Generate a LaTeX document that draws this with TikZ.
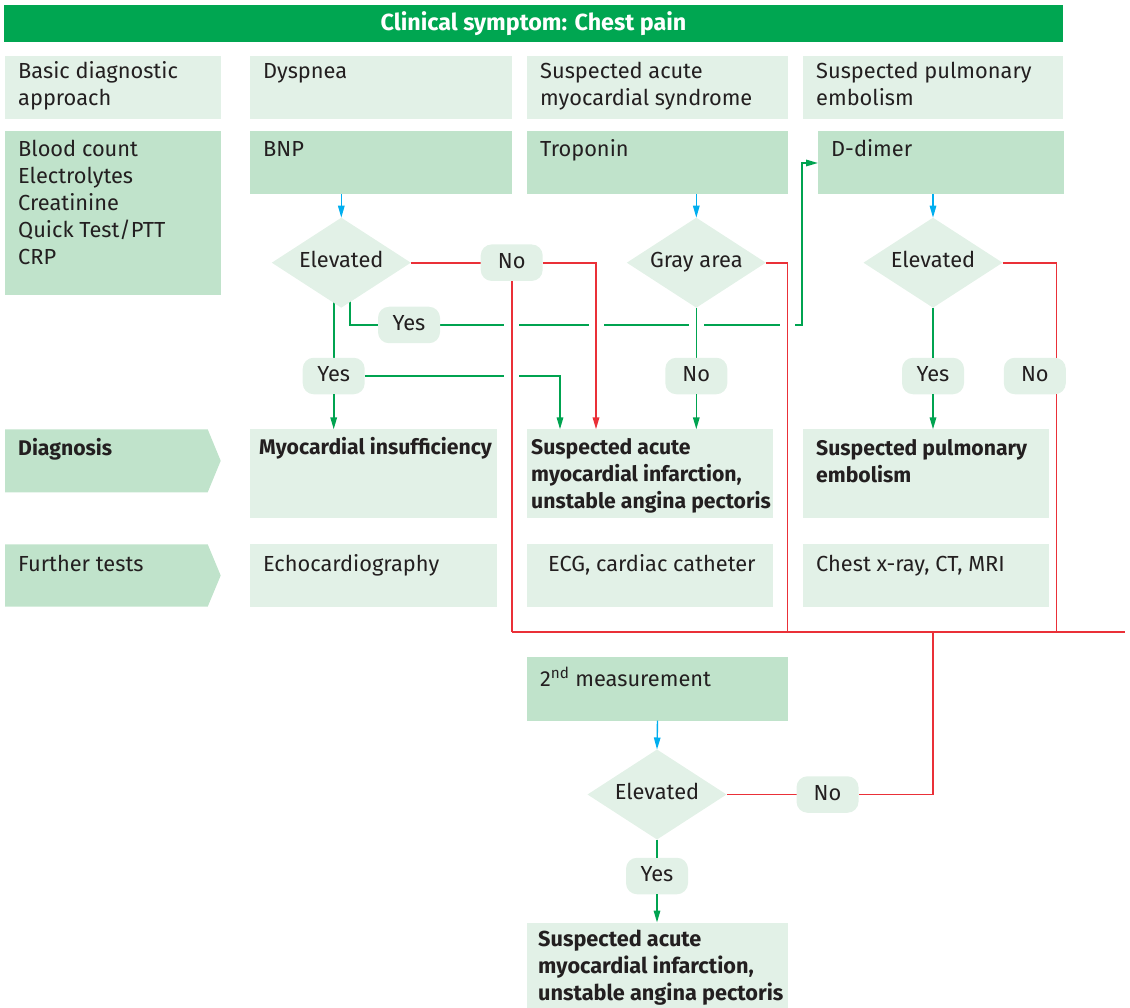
\documentclass[tikz,border=0pt]{standalone}
\usepackage{fontspec}
\setmainfont{Fira Sans}
\usetikzlibrary{arrows.meta,shapes.geometric,calc}
\definecolor{pale}{RGB}{226,241,231}
\definecolor{mint}{RGB}{192,227,203}
\definecolor{brand}{RGB}{0,166,81}
\definecolor{alert}{RGB}{234,48,56}
\definecolor{flow}{RGB}{0,163,80}
\definecolor{sky}{RGB}{0,174,239}
\definecolor{ink}{RGB}{35,31,32}
\pgfdeclarelayer{wires}
\pgfsetlayers{wires,main}
% \cell{name}{x}{y}{width}{height}{box style}{text style}{first baseline offset}{text}
\newcommand\cell[9]{%
  \node[#6, minimum width=#4, minimum height=#5] (#1) at (#2,#3) {};
  \node[#7] (#1-t) at ($(#1.north west)+(#8)$) {\rule{0pt}{19pt}#9};}
\newcommand\bodyfont{\fontsize{21.8}{27}\selectfont}
\newcommand\headfont{\fontsize{21.2}{27}\selectfont\bfseries}
\begin{document}
\begin{tikzpicture}[x=1pt,y=-1pt,
  base/.style={inner sep=0pt, outer sep=0pt, anchor=north west, draw=none},
  pbox/.style={base, fill=pale},
  mbox/.style={base, fill=mint},
  txt/.style={anchor=north west, align=left, inner sep=0pt, yshift=19pt, text=ink, font=\bodyfont},
  btxt/.style={txt, font=\headfont},
  dia/.style={diamond, fill=pale, inner sep=0pt, outer sep=0pt, aspect=1.55,
    minimum width=139pt, minimum height=90pt, text=ink, font=\bodyfont,
    text height=15pt, text depth=6pt},
  pill/.style={rectangle, rounded corners=11pt, fill=pale, inner sep=0pt, outer sep=0pt,
    minimum width=62pt, minimum height=36.5pt, text=ink, font=\bodyfont,
    text height=15pt, text depth=4pt},
  tip/.style={-{Triangle[length=12pt,width=6.5pt]}},
  bline/.style={draw=sky, line width=1.4pt},
  gline/.style={draw=flow, line width=1.6pt},
  rline/.style={draw=alert, line width=1.7pt},
  gap/.style={preaction={draw=white, line width=15pt, -}}]
\useasboundingbox (0,0) rectangle (1130,1008);

% header bar
\node[base, fill=brand, minimum width=1059, minimum height=37, anchor=center,
  text=white, font=\fontsize{23.3}{27}\selectfont\bfseries] (title) at (533.5,23.5)
  {Clinical symptom: Chest pain};

% first row
\cell{basic}{5}{56}{216}{63}{pbox}{txt}{13,22.3}{Basic diagnostic\\approach}
\cell{dys}{250}{56}{262}{63}{pbox}{txt}{13,22.3}{Dyspnea}
\cell{acs}{527}{56}{261}{63}{pbox}{txt}{13,22.3}{Suspected acute\\myocardial syndrome}
\cell{pul}{803}{56}{260}{63}{pbox}{txt}{13,22.3}{Suspected pulmonary\\embolism}

% laboratory row
\cell{lab}{5}{131.5}{216}{164}{mbox}{txt}{13,24.5}{Blood count\\Electrolytes\\Creatinine\\Quick Test/PTT\\CRP}
\cell{bnp}{250}{131.5}{262}{63}{mbox}{txt}{13,24.5}{BNP}
\cell{trop}{527}{131.5}{261}{63}{mbox}{txt}{13,24.5}{Troponin}
\cell{ddim}{818}{131.5}{245.5}{63}{mbox}{txt}{13,24.5}{D-dimer}

% diagnosis row
\fill[mint] (5,429.3) -- (207.7,429.3) -- (220.7,460.8) -- (207.7,492.3) -- (5,492.3) -- cycle;
\node[btxt] (diag) at (18,455) {\rule{0pt}{19pt}Diagnosis};
\cell{mi}{250}{429.3}{247}{88.2}{pbox}{btxt}{9,25}{Myocardial insufficiency}
\cell{sami}{527}{429.3}{246}{88.2}{pbox}{btxt}{4,24.5}{Suspected acute\\myocardial infarction,\\unstable angina pectoris}
\cell{pe}{803}{429.3}{246}{88.2}{pbox}{btxt}{13,25.5}{Suspected pulmonary\\embolism}

% further tests row
\fill[mint] (5,544.3) -- (207.7,544.3) -- (220.7,575.5) -- (207.7,606.7) -- (5,606.7) -- cycle;
\node[txt] (further) at (18,571.7) {\rule{0pt}{19pt}Further tests};
\cell{echo}{250}{544.3}{247}{62.4}{pbox}{txt}{13,26.5}{Echocardiography}
\cell{ecg}{527}{544.3}{246}{62.4}{pbox}{txt}{21,27}{ECG, cardiac catheter}
\cell{img}{803}{544.3}{246}{62.4}{pbox}{txt}{13,27}{Chest x-ray, CT, MRI}

% repeated troponin measurement
\cell{meas}{527}{657.3}{261}{63.4}{mbox}{txt}{13,28.7}{2\textsuperscript{nd} measurement}
\cell{fin}{527}{922.5}{261}{85.5}{pbox}{txt}{11,24}{\fontsize{21.7}{27}\selectfont\bfseries Suspected acute\\
  \fontsize{21.7}{27}\selectfont\bfseries myocardial infarction,\\
  \fontsize{21.7}{27}\selectfont\bfseries unstable angina pectoris}

% decisions
\node[dia] (e1) at (341.3,262.7) {Elevated};
\node[dia] (ga) at (696.3,262.7) {Gray area};
\node[dia] (e3) at (933,262.7) {Elevated};
\node[dia] (e4) at (657,794.5) {Elevated};

% answers
\node[pill] (no1) at (511.7,262.7) {No};
\node[pill] (y2) at (409,325) {Yes};
\node[pill] (y1) at (333.7,376) {Yes};
\node[pill] (no2) at (696.3,376) {No};
\node[pill] (y3) at (933,376) {Yes};
\node[pill] (no3) at (1034.8,376) {No};
\node[pill] (no4) at (827.5,794.5) {No};
\node[pill] (y4) at (657,876) {Yes};

\coordinate (busR) at (1125,631.7);

% test results into the decisions
\draw[bline, tip] (e1 |- bnp.south) -- (e1.north);
\draw[bline, tip] (ga |- trop.south) -- (ga.north);
\draw[bline, tip] (e3 |- ddim.south) -- (e3.north);
\draw[bline, tip] (meas.south) -- (e4.north);

\begin{pgfonlayer}{wires}
  % horizontal branches first, so crossings can break them
  \draw[gline] (y1 |- e1) -- (y1);
  \draw[gline] ($(e1)+(8.5,0)$) |- (y2.west);
  \draw[gline, tip] (y2.east) -| ($(ddim.west)+(-16,0)$) -- (ddim.west);
  \draw[gline, tip] (y1.east) -| ($(sami.north west)+(33,0)$);
  \draw[rline] (e1.east) -- (no1.west);
  \draw[rline] (e3.east) -| ($(busR)+(-68.5,0)$);
  % vertical runs that cut through the branches
  \draw[gline, gap] (ga.south) -- (no2.north);
  \draw[rline, gap, tip] (no1.east) -| ($(sami.north west)+(69,0)$);
  \draw[rline, gap] (no1.south) -- (no1.south |- busR);
  \draw[rline, gap] (ga.east) -| ($(trop.east |- busR)+(-0.5,0)$);
  % collecting line towards the second measurement
  \draw[rline] (no1.south |- busR) -- (busR);
  \draw[rline] (busR -| e3) |- (no4.east);
  \draw[rline] (no4.west) -- (e4.east);
\end{pgfonlayer}

\draw[gline, tip] (y1.south) -- (y1.south |- mi.north);
\draw[gline, tip] (no2.south) -- (no2.south |- sami.north);
\draw[gline] (e3.south) -- (y3.north);
\draw[gline, tip] (y3.south) -- (y3.south |- pe.north);
\draw[gline] (e4.south) -- (y4.north);
\draw[gline, tip] (y4.south) -- (y4.south |- fin.north);
\end{tikzpicture}
\end{document}
